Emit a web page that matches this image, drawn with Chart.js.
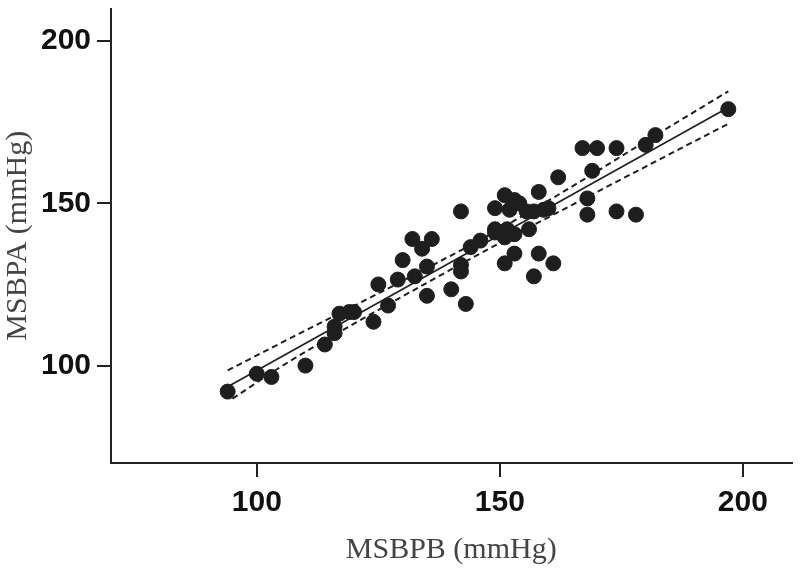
<!DOCTYPE html>
<html lang="en">
<head>
    <meta charset="utf-8">
    <title>MSBPA vs MSBPB</title>
    <style>
        html, body { margin: 0; padding: 0; background: #fff; }
        #chartContainer { width: 800px; height: 572px; }
    </style>
</head>
<body>
<div id="chartContainer">
    <canvas id="myChart" width="800" height="572"></canvas>
</div>
<script src="https://cdn.jsdelivr.net/npm/chart.js@4.4.1/dist/chart.umd.min.js"></script>
<script type="text/javascript">
    var msbpb = [94, 100, 103, 110, 114, 116, 116, 117, 119, 120, 124, 125, 127, 129, 130,
        132, 134, 136, 132.5, 135, 135, 140, 142, 142, 143, 142, 144, 146, 149, 151,
        152, 153, 154, 155.5, 157, 159, 160, 158, 162, 149, 149, 151.5, 151, 153, 156,
        153, 151, 158, 161, 157, 167, 170, 174, 180, 182, 197, 169, 168, 168, 174, 178];
    var msbpa = [92, 97.5, 96.5, 100, 106.5, 110, 112, 116, 116.5, 116.5, 113.5, 125, 118.5, 126.5, 132.5,
        139, 136, 139, 127.5, 130.5, 121.5, 123.5, 131, 129, 119, 147.5, 136.5, 138.5, 148.5, 152.5,
        148, 151, 150, 147.5, 147.5, 148, 148.5, 153.5, 158, 142, 141, 142, 139.5, 140.5, 142,
        134.5, 131.5, 134.5, 131.5, 127.5, 167, 167, 167, 168, 171, 179, 160, 151.5, 146.5, 147.5, 146.5];

    // regression line and confidence band
    var fitX = [94, 197];
    var fitY = [93.5, 179.5];
    var upperX = [94, 105, 120, 135, 150, 165, 180, 197];
    var upperY = [98.5, 107.0, 118.4, 130.0, 142.1, 155.3, 169.1, 184.5];
    var lowerX = [95, 105, 120, 135, 150, 165, 180, 197];
    var lowerY = [89.8, 99.7, 112.9, 125.5, 137.8, 149.6, 161.3, 174.5];

    var xTicks = [100, 150, 200];
    var yTicks = [100, 150, 200];

    function pairs(xs, ys) {
        var out = [];
        for (var i = 0; i < xs.length; i++) {
            out.push({x: xs[i], y: ys[i]});
        }
        return out;
    }

    var ink = '#1e1e1e';
    var tickFont = {family: "'Liberation Sans', Arial, sans-serif", size: 30, weight: 'bold'};
    var titleFont = {family: "'Liberation Serif', 'Times New Roman', serif", size: 30};

    var ctx = document.getElementById('myChart');
    var chart = new Chart(ctx, {
        type: 'scatter',
        data: {
            datasets: [{
                label: 'points',
                data: pairs(msbpb, msbpa),
                backgroundColor: ink,
                borderColor: ink,
                pointRadius: 7.5,
                pointHoverRadius: 7.5
            }, {
                label: 'fit',
                data: pairs(fitX, fitY),
                showLine: true,
                borderColor: ink,
                borderWidth: 1.6,
                pointRadius: 0
            }, {
                label: 'upper',
                data: pairs(upperX, upperY),
                showLine: true,
                borderColor: ink,
                borderWidth: 2,
                borderDash: [6, 4],
                cubicInterpolationMode: 'monotone',
                pointRadius: 0
            }, {
                label: 'lower',
                data: pairs(lowerX, lowerY),
                showLine: true,
                borderColor: ink,
                borderWidth: 2,
                borderDash: [6, 4],
                cubicInterpolationMode: 'monotone',
                pointRadius: 0
            }]
        },
        options: {
            responsive: false,
            animation: false,
            layout: {padding: {top: 8, right: 3, left: 0, bottom: 0}},
            plugins: {legend: {display: false}, tooltip: {enabled: false}},
            scales: {
                x: {
                    min: 70,
                    max: 210,
                    afterBuildTicks: function (scale) {
                        scale.ticks = xTicks.map(function (v) { return {value: v}; });
                    },
                    afterFit: function (scale) {
                        scale.height = 109;
                        scale.paddingLeft = 0;
                        scale.paddingRight = 0;
                    },
                    border: {display: true, color: '#222', width: 2},
                    grid: {drawOnChartArea: false, drawTicks: true, tickLength: 14, color: '#222', lineWidth: 2},
                    ticks: {color: '#111', font: tickFont, padding: 8, maxRotation: 0},
                    title: {display: true, text: 'MSBPB (mmHg)', color: '#444', font: titleFont, padding: {top: 0, bottom: 4}}
                },
                y: {
                    min: 70,
                    max: 210,
                    afterBuildTicks: function (scale) {
                        scale.ticks = yTicks.map(function (v) { return {value: v}; });
                    },
                    afterFit: function (scale) {
                        scale.width = 111;
                        scale.paddingTop = 0;
                        scale.paddingBottom = 0;
                    },
                    border: {display: true, color: '#222', width: 2},
                    grid: {drawOnChartArea: false, drawTicks: true, tickLength: 14, color: '#222', lineWidth: 2},
                    ticks: {color: '#111', font: tickFont, padding: 6},
                    title: {display: true, text: 'MSBPA (mmHg)', color: '#444', font: titleFont, padding: {top: 0, bottom: 0}}
                }
            }
        }
    });
</script>
</body>
</html>
